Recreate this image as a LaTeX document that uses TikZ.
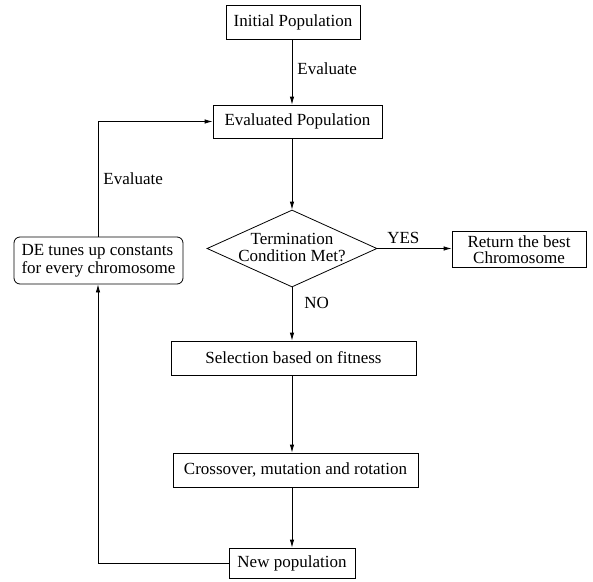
\documentclass[tikz,border=0pt]{standalone}
\usepackage{fontspec}
\setmainfont{Liberation Serif}
\usetikzlibrary{shapes.geometric,arrows.meta}
\begin{document}
\begin{tikzpicture}[x=1pt,y=-1pt,
  every node/.style={font=\fontsize{17}{20}\selectfont, inner sep=0pt},
  box/.style={draw, line width=0.8pt, rectangle},
  rbox/.style={draw, line width=0.8pt, rectangle, rounded corners=6pt, align=left},
  dia/.style={draw, line width=0.8pt, diamond, minimum width=170pt, minimum height=77pt, inner sep=0pt},
  conn/.style={line width=0.8pt, -{Latex[length=8pt,width=4.5pt]}},
  plain/.style={line width=0.8pt}]
\useasboundingbox (0,0) rectangle (593,581);
\node[box, minimum width=134pt, minimum height=34pt] (ini) at (293,22) {Initial Population};
\node[box, minimum width=169pt, minimum height=33pt] (ev) at (297.5,121.5) {Evaluated Population};
\node[dia] (d) at (292,248.5) {};
\node[align=center, font=\fontsize{17}{17}\selectfont] (dt) at (292,247) {Termination\\Condition Met?};
\node[box, minimum width=134pt, minimum height=36pt, align=center, font=\fontsize{17}{16.5}\selectfont] (ret) at (519,249.5) {Return the best\\Chromosome};
\node[rbox, minimum width=169pt, minimum height=47pt, font=\fontsize{17}{18}\selectfont] (de) at (98.5,260.5) {DE tunes up constants\\for every chromosome};
\node[box, minimum width=245pt, minimum height=34pt] (sel) at (293.5,358) {Selection based on fitness};
\node[box, minimum width=245pt, minimum height=34pt] (cro) at (295.5,470) {Crossover, mutation and rotation};
\node[box, minimum width=126pt, minimum height=30pt] (np) at (292,563) {New population};
\coordinate (x0) at (292,0);
\coordinate (lx) at (98,0);
\draw[conn] (ini.south -| x0) -- (ev.north -| x0) node[pos=0.45, right=5pt] (l1) {Evaluate};
\draw[conn] (ev.south -| x0) -- (d.north);
\draw[conn] (d.east) -- (d.east -| ret.west) node[pos=0.35, above=4pt] (lyes) {YES};
\draw[conn] (d.south) -- (sel.north -| x0) node[pos=0.3, right=12pt] (lno) {NO};
\draw[conn] (sel.south -| x0) -- (cro.north -| x0);
\draw[conn] (cro.south -| x0) -- (np.north -| x0);
\draw[conn] (np.west) -| (de.south -| lx);
\draw[conn] (de.north -| lx) |- (ev.west) node[pos=0.25, right=5pt] (l2) {Evaluate};
\end{tikzpicture}
\end{document}
